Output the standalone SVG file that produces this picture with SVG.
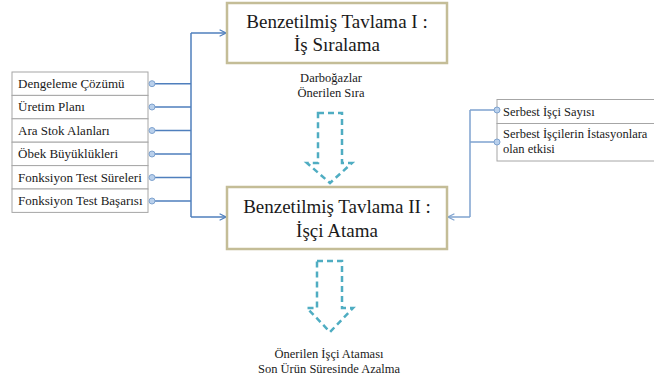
<svg xmlns="http://www.w3.org/2000/svg" width="654" height="381" viewBox="0 0 654 381">
<defs>
<marker id="arr" viewBox="0 0 10 10" refX="9" refY="5" markerWidth="8" markerHeight="8" markerUnits="userSpaceOnUse" orient="auto">
<path d="M1,1 L9,5 L1,9" fill="none" stroke="#4f7fbd" stroke-width="1.5"/>
</marker>
<marker id="arr2" viewBox="0 0 10 10" refX="9" refY="5" markerWidth="8" markerHeight="8" markerUnits="userSpaceOnUse" orient="auto">
<path d="M1,1 L9,5 L1,9" fill="none" stroke="#7fa3cf" stroke-width="1.5"/>
</marker>
</defs>
<style>
.main{fill:#fff;stroke:#c4bd97;stroke-width:2.5}
.cell{fill:#fff;stroke:#a6a6a6;stroke-width:1}
.dot{fill:#b9d0ec;stroke:#7fa3cf;stroke-width:1}
.con{fill:none;stroke:#4f7fbd;stroke-width:1.5}
.con2{fill:none;stroke:#7fa3cf;stroke-width:1.5}
.dash{fill:#fff;stroke:#4fadc2;stroke-width:2.5;stroke-dasharray:6 4;stroke-linejoin:miter}
</style>
<rect width="654" height="381" fill="#fff"/>

<g id="connectors">
<path class="con" d="M152,83.7 H191 M152,107 H191 M152,130.5 H191 M152,154 H191 M152,177.5 H191 M152,201 H191"/>
<path class="con" d="M191,217 V33" />
<path class="con" d="M191,33 H226" marker-end="url(#arr)"/>
<path class="con" d="M191,217 H226" marker-end="url(#arr)"/>
<path class="con2" d="M497,110 H470 M497,142 H470 M470,110 V217"/>
<path class="con2" d="M470,217 H448" marker-end="url(#arr2)"/>
</g>

<g id="node-sa1" font-family="Liberation Serif, serif" fill="#1a1a1a" font-size="19" text-anchor="middle">
<rect class="main" x="227" y="3" width="220" height="60"/>
<text x="337" y="28">Benzetilmiş Tavlama I :</text>
<text x="337" y="51">İş Sıralama</text>
</g>

<g id="label-darbogaz" font-family="Liberation Serif, serif" fill="#1a1a1a" font-size="12.5" text-anchor="middle">
<text x="331" y="82">Darboğazlar</text>
<text x="331" y="97">Önerilen Sıra</text>
</g>

<g id="arrow-1">
<path class="dash" d="M318,113 H342 V163 H352 L330,183 L307,163 H318 Z"/>
</g>

<g id="node-sa2" font-family="Liberation Serif, serif" fill="#1a1a1a" font-size="19" text-anchor="middle">
<rect class="main" x="227" y="187" width="220" height="62"/>
<text x="337" y="213">Benzetilmiş Tavlama II :</text>
<text x="337" y="237">İşçi Atama</text>
</g>

<g id="arrow-2">
<path class="dash" d="M317,261 H342 V308 H353 L330,332 L307,308 H317 Z"/>
</g>

<g id="label-result" font-family="Liberation Serif, serif" fill="#1a1a1a" font-size="12.5" text-anchor="middle">
<text x="329" y="358">Önerilen İşçi Ataması</text>
<text x="329" y="373">Son Ürün Süresinde Azalma</text>
</g>

<g id="node-inputs" font-family="Liberation Serif, serif" fill="#1a1a1a" font-size="13">
<rect class="cell" x="12" y="72" width="136" height="23.4"/>
<rect class="cell" x="12" y="95.4" width="136" height="23.4"/>
<rect class="cell" x="12" y="118.8" width="136" height="23.4"/>
<rect class="cell" x="12" y="142.2" width="136" height="23.4"/>
<rect class="cell" x="12" y="165.6" width="136" height="23.4"/>
<rect class="cell" x="12" y="189" width="136" height="23.4"/>
<text x="18" y="88">Dengeleme Çözümü</text>
<text x="18" y="111.4">Üretim Planı</text>
<text x="18" y="134.8">Ara Stok Alanları</text>
<text x="18" y="158.2">Öbek Büyüklükleri</text>
<text x="18" y="181.6">Fonksiyon Test Süreleri</text>
<text x="18" y="205">Fonksiyon Test Başarısı</text>
<circle class="dot" cx="152" cy="83.7" r="3"/>
<circle class="dot" cx="152" cy="107" r="3"/>
<circle class="dot" cx="152" cy="130.5" r="3"/>
<circle class="dot" cx="152" cy="154" r="3"/>
<circle class="dot" cx="152" cy="177.5" r="3"/>
<circle class="dot" cx="152" cy="201" r="3"/>
</g>

<g id="node-workers" font-family="Liberation Serif, serif" fill="#1a1a1a" font-size="12.5">
<rect class="cell" x="497" y="99.5" width="170" height="24"/>
<rect class="cell" x="497" y="123.5" width="170" height="37.5"/>
<text x="503" y="116">Serbest İşçi Sayısı</text>
<text x="503" y="138">Serbest İşçilerin İstasyonlara</text>
<text x="503" y="153">olan etkisi</text>
<circle class="dot" cx="497" cy="110" r="3"/>
<circle class="dot" cx="497" cy="142" r="3"/>
</g>
</svg>
